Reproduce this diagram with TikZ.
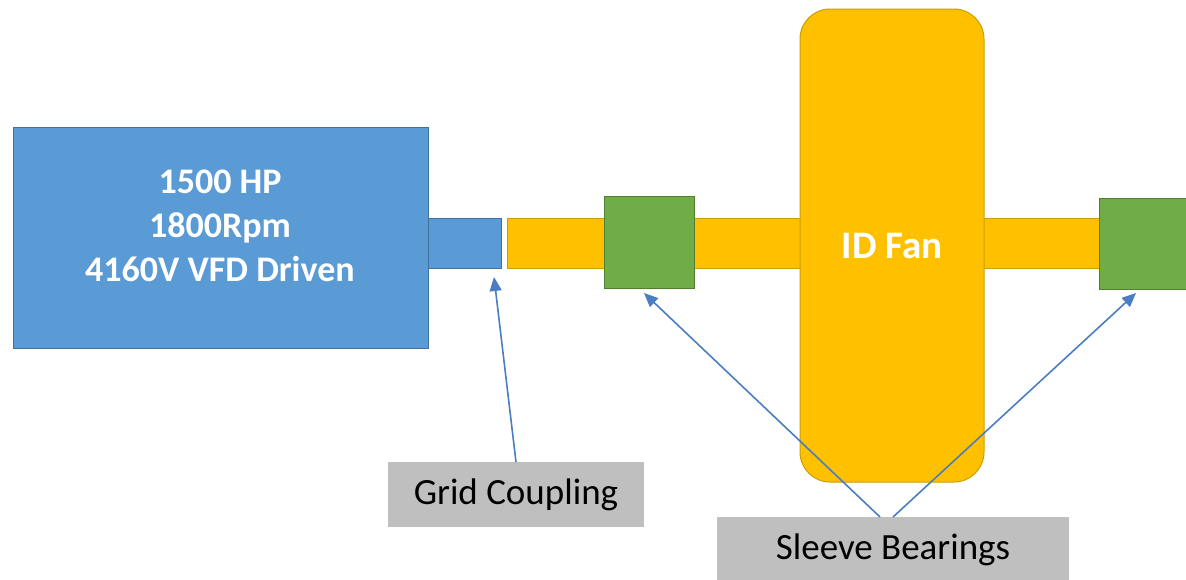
\documentclass[tikz,border=0pt]{standalone}
\usepackage{fontspec}
\setmainfont{Carlito}
\usetikzlibrary{arrows.meta,calc}
\definecolor{motorblue}{HTML}{5B9BD5}
\definecolor{motoredge}{HTML}{41719C}
\definecolor{fanyellow}{HTML}{FFC000}
\definecolor{fanedge}{HTML}{C9A000}
\definecolor{bearinggreen}{HTML}{70AD47}
\definecolor{bearingedge}{HTML}{507E32}
\definecolor{labelgray}{HTML}{BFBFBF}
\definecolor{arrowblue}{HTML}{4A7EC2}
\tikzset{
  box/.style={anchor=north west, inner sep=0pt, outer sep=0pt, line width=1pt},
  motorbox/.style={box, fill=motorblue, draw=motoredge},
  shaftbox/.style={box, fill=fanyellow, draw=fanedge},
  bearingbox/.style={box, fill=bearinggreen, draw=bearingedge},
  fanbox/.style={box, fill=fanyellow, draw=fanedge, rounded corners=30pt,
    text=white, font=\bfseries\fontsize{39}{44}\selectfont},
  labelbox/.style={box, fill=labelgray, text=black, font=\fontsize{37}{40}\selectfont},
  whitetext/.style={text=white, align=center, inner sep=0pt,
    font=\bfseries\fontsize{36}{44}\selectfont},
  pointer/.style={draw=arrowblue, line width=1.6pt,
    -{Triangle[length=14pt,width=12pt]}}
}
\begin{document}
\begin{tikzpicture}[x=1pt,y=-1pt]
\useasboundingbox (0,0) rectangle (1186,579);
\clip (0,0) rectangle (1186,579);
% motor
\node[motorbox, minimum width=415pt, minimum height=221pt] (motor) at (13,127) {};
\node[whitetext] (motortext) at (220,226) {1500 HP\\1800Rpm\\4160V VFD Driven};
\node[motorbox, minimum width=73pt, minimum height=50pt] (stub) at (428,218) {};
% shaft
\node[shaftbox, minimum width=600pt, minimum height=50pt] (shaft) at (507,218) {};
% fan
\node[fanbox, minimum width=184pt, minimum height=473pt] (fan) at (800,9) {ID Fan};
% bearings
\node[bearingbox, minimum width=90pt, minimum height=92pt] (bearingA) at (604,196) {};
\node[bearingbox, minimum width=95pt, minimum height=91pt] (bearingB) at (1099,198) {};
% labels
\node[labelbox, minimum width=256pt, minimum height=65pt] (grid) at (388,462) {Grid Coupling};
\node[labelbox, minimum width=352pt, minimum height=66pt] (sleeve) at (717,517) {Sleeve Bearings};
% arrow targets
\coordinate (tipgrid) at ($(stub.south east)+(-7,9)$);
\coordinate (tipA) at ($(bearingA.south west)+(40,5)$);
\coordinate (tipB) at ($(bearingB.south west)+(37,4)$);
\coordinate (sleeveL) at ($(sleeve.north)+(-13,0)$);
% arrows
\draw[pointer] (grid.north) -- (tipgrid);
\draw[pointer] (sleeveL) -- (tipA);
\draw[pointer] (sleeve.north) -- (tipB);
\end{tikzpicture}
\end{document}
